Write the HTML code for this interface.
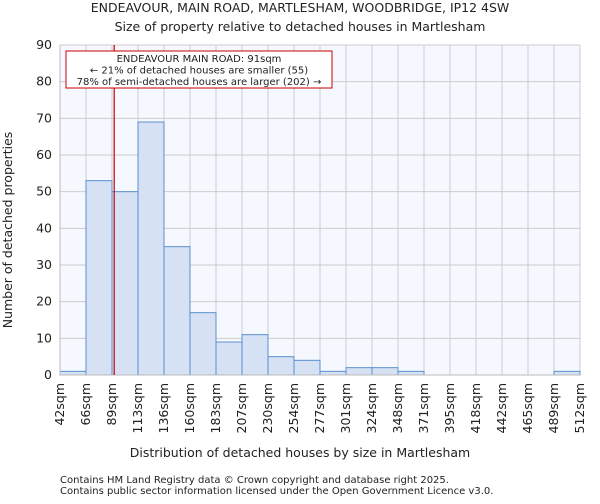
<!DOCTYPE html>
<html><head><meta charset="utf-8"><style>
body{margin:0;background:#fff;font-family:"DejaVu Sans","Liberation Sans",sans-serif;}
svg text{font-family:"DejaVu Sans","Liberation Sans",sans-serif;fill:#222;}
</style></head><body>
<svg id="c" width="600" height="500">
<text x="300" y="12" font-size="12.5" text-anchor="middle">ENDEAVOUR, MAIN ROAD, MARTLESHAM, WOODBRIDGE, IP12 4SW</text>
<text x="300" y="31" font-size="12.5" text-anchor="middle">Size of property relative to detached houses in Martlesham</text>
<text x="300" y="457" font-size="12.5" text-anchor="middle">Distribution of detached houses by size in Martlesham</text>
<text transform="translate(12,230) rotate(-90)" font-size="12.5" text-anchor="middle">Number of detached properties</text>
<text x="60" y="483" font-size="10" fill="#444">Contains HM Land Registry data © Crown copyright and database right 2025.</text>
<text x="60" y="494" font-size="10" fill="#444">Contains public sector information licensed under the Open Government Licence v3.0.</text>
</svg>
<script>
const binLabels=["42sqm","66sqm","89sqm","113sqm","136sqm","160sqm","183sqm","207sqm","230sqm","254sqm","277sqm","301sqm","324sqm","348sqm","371sqm","395sqm","418sqm","442sqm","465sqm","489sqm","512sqm"];
const counts=[1,53,50,69,35,17,9,11,5,4,1,2,2,1,0,0,0,0,0,1];
const yTicks=[0,10,20,30,40,50,60,70,80,90];
const markerValue=91;
const binStart=42, binEnd=512;
const ns="http://www.w3.org/2000/svg", svg=document.getElementById('c');
const L=60,R=580,T=45,B=375,yMax=90;
const n=counts.length, bw=(R-L)/n;
const xs=i=>L+i*bw;
const xv=v=>L+(v-binStart)/(binEnd-binStart)*(R-L);
const ys=v=>B-v/yMax*(B-T);
function mk(t,a){const e=document.createElementNS(ns,t);for(const k in a)e.setAttribute(k,a[k]);svg.appendChild(e);return e;}
const bg=mk('rect',{x:L,y:T,width:R-L,height:B-T,fill:'#f5f8fe'});


yTicks.forEach(v=>{const g=mk('line',{x1:L,x2:R,y1:ys(v),y2:ys(v),stroke:'#cccccc'});


const t=mk('text',{x:L-8,y:ys(v)+4,'font-size':12.5,'text-anchor':'end'});t.textContent=v;

});
binLabels.forEach((s,i)=>{const g=mk('line',{x1:xs(i),x2:xs(i),y1:T,y2:B,stroke:'#cccccc'});


const t=mk('text',{'font-size':12.5,'text-anchor':'end',transform:`translate(${xs(i)+4},${B+8}) rotate(-90)`});t.textContent=s;

});
counts.forEach((c,i)=>{if(!c)return;const r=mk('rect',{x:xs(i),y:ys(c),width:bw,height:B-ys(c),fill:'#d6e1f3',stroke:'#5b8fd0','stroke-width':1});

});
const ax=mk('line',{x1:L,x2:L,y1:T,y2:B,stroke:'#bbb'});


const xa=mk('line',{x1:L,x2:R,y1:B,y2:B,stroke:'#bbb'});


const ml=mk('line',{x1:xv(markerValue),x2:xv(markerValue),y1:T,y2:B,stroke:'#cc0000','stroke-width':1.2});


const box=mk('rect',{x:66,y:51,width:266,height:37,fill:'#fff',stroke:'#cc0000','stroke-width':1});


["ENDEAVOUR MAIN ROAD: 91sqm","← 21% of detached houses are smaller (55)","78% of semi-detached houses are larger (202) →"].forEach((s,i)=>{const t=mk('text',{x:199,y:62+i*11.5,'font-size':10,'text-anchor':'middle'});t.textContent=s;

});
</script>
</body></html>
